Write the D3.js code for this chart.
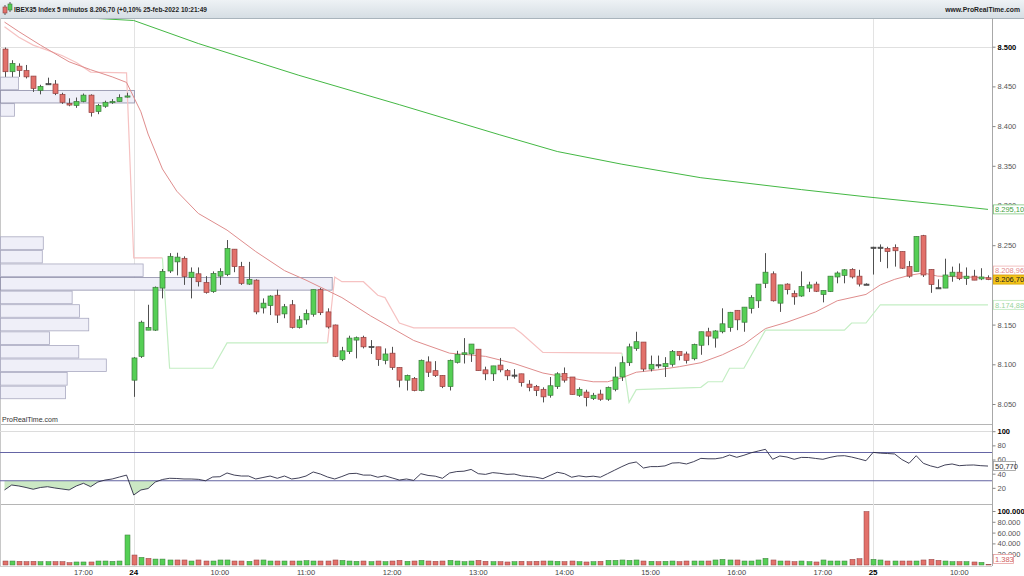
<!DOCTYPE html>
<html lang="es">
<head>
<meta charset="UTF-8">
<script src="https://d3js.org/d3.v7.min.js"></script>
<style>
  body { margin: 0; background: #fff; }
  svg { display: block; font-family: "Liberation Sans", Arial, sans-serif; }
</style>
</head>
<body>
<svg class="chart" width="1024" height="576"></svg>
<script>

// ---- data (5 min candles, 23-feb 16:05 .. 25-feb 10:20) ----
const candleOpen = [
  8497, 8468.5, 8475.5, 8470, 8463, 8445, 8453, 8453, 8440, 8428.5, 8426, 8431, 8439, 8418.5, 8425, 8430, 8431, 8437,
  8080, 8110, 8143, 8143, 8196, 8217.5, 8229, 8233.5, 8209.5, 8214, 8203, 8191.5, 8211, 8213, 8245, 8223, 8201, 8206, 8171, 8174, 8187, 8163.5, 8175, 8146.5, 8156, 8163, 8194, 8166, 8149.5,
  8106, 8116, 8130.5, 8134, 8122, 8122, 8105, 8114, 8096, 8080, 8082, 8067, 8103, 8092, 8086, 8072, 8102.5, 8112.5, 8113, 8119, 8093, 8088, 8099, 8092, 8086.5, 8088, 8075, 8072, 8068.5, 8061, 8072, 8088.5, 8084, 8061, 8065, 8057, 8062.5, 8056, 8068.5, 8084, 8102, 8120, 8128, 8094, 8099, 8097, 8100,
  8116, 8113, 8107, 8124, 8141, 8133, 8141, 8146.5, 8168, 8153, 8170.5, 8180, 8202, 8214, 8177, 8201, 8189, 8186, 8196, 8201, 8188, 8191.5, 8210, 8212, 8219.5, 8211, 8201,
  8247, 8247, 8246, 8247, 8242, 8223, 8217, 8262, 8219.5, 8196, 8196, 8211, 8216, 8208, 8211, 8207.5, 8209
];
const candleHigh = [
  8499, 8483, 8479, 8477, 8463, 8452, 8461, 8458, 8442, 8435, 8436, 8441, 8440, 8428, 8432, 8434, 8440, 8442,
  8109, 8155, 8175, 8198, 8220, 8240, 8240.5, 8236, 8222, 8222, 8211, 8217, 8221, 8256.5, 8245, 8229, 8229, 8207, 8183, 8187, 8194, 8176, 8181, 8161, 8169, 8194, 8196, 8170.5, 8150,
  8122, 8136, 8135, 8136, 8130.5, 8122, 8120, 8122, 8096, 8087, 8084, 8106, 8110, 8104, 8086, 8106, 8117, 8133, 8125.5, 8119, 8097, 8098, 8108, 8094, 8094, 8088, 8080, 8074, 8071, 8084, 8090, 8096, 8084, 8071, 8068, 8064, 8068, 8072, 8097, 8110, 8126, 8141, 8128, 8111, 8111, 8109, 8118,
  8116, 8116, 8126, 8141, 8146, 8143, 8170.5, 8166, 8168, 8172, 8187, 8201, 8240, 8217, 8200, 8202, 8193, 8217, 8204, 8204, 8193, 8211, 8217, 8220, 8221, 8219, 8202,
  8248, 8251, 8248, 8251, 8242, 8230, 8261, 8263, 8219.5, 8207, 8233, 8223, 8227, 8222, 8219, 8221, 8212
];
const candleLow = [
  8462, 8462, 8462, 8460, 8443, 8440, 8452, 8439, 8428, 8425, 8423, 8430, 8412, 8415, 8423, 8428, 8431, 8436,
  8059, 8108, 8143, 8142, 8183, 8215, 8212, 8200, 8183, 8198, 8189, 8190, 8200, 8211, 8216, 8200, 8200, 8163, 8164, 8162, 8152, 8158, 8145, 8145, 8150, 8160, 8162, 8145, 8109,
  8104, 8113, 8107.5, 8120, 8113, 8098, 8100, 8093, 8071, 8067, 8066, 8066, 8084, 8084, 8070, 8067, 8101, 8101, 8103, 8092, 8080, 8079, 8090, 8080, 8082, 8072, 8066, 8060, 8052, 8058, 8069, 8077, 8062, 8059, 8047, 8055, 8054, 8054, 8066, 8079, 8098, 8117, 8091, 8091, 8095, 8084, 8097,
  8105, 8101, 8105, 8112, 8124, 8121, 8139, 8141, 8143, 8141, 8164, 8171, 8196, 8179, 8166, 8188, 8175, 8185, 8191, 8191, 8178, 8191, 8202, 8202, 8208, 8198, 8200,
  8213, 8229, 8221, 8223, 8220, 8209, 8217, 8210, 8190, 8195, 8196, 8204, 8206, 8200, 8206, 8206, 8206
];
const candleClose = [
  8468.5, 8479, 8470, 8462, 8447.5, 8450, 8453.5, 8441, 8430, 8426.5, 8431, 8439, 8417, 8426, 8430, 8431, 8436, 8438,
  8108, 8153, 8146.5, 8197, 8217, 8236, 8235, 8210.5, 8216, 8204, 8190.5, 8214.5, 8217, 8246, 8223, 8202, 8207, 8166, 8177, 8186, 8162, 8172.5, 8146.5, 8156, 8164, 8194, 8165, 8147, 8110,
  8117, 8133, 8133.5, 8122, 8122.5, 8106, 8113, 8096, 8080, 8086, 8067, 8105, 8090, 8086, 8072, 8105, 8112.5, 8114.5, 8125.5, 8092, 8088, 8098, 8093, 8085.5, 8086.5, 8077, 8071, 8067, 8059, 8073, 8088, 8080, 8062, 8068.5, 8058, 8061, 8056, 8071, 8084, 8102, 8122, 8128.5, 8094, 8100, 8099.5, 8101, 8116,
  8111, 8105, 8125, 8141, 8135.5, 8142, 8151, 8165.5, 8156, 8172, 8184, 8201, 8216, 8180, 8200, 8194, 8185, 8198, 8200, 8192, 8193, 8211, 8215, 8219, 8210, 8201, 8200.5,
  8247.5, 8247.5, 8242, 8243, 8221, 8211, 8261, 8212.5, 8200.5, 8196.5, 8212.5, 8216, 8208, 8211, 8206, 8210, 8206.7
];
const volume = [
  7400, 7400, 6800, 6200, 6800, 6200, 6200, 6200, 6200, 4300, 5600, 5600, 5600, 7400, 7400, 6800, 7400, 55600,
  18500, 14200, 12300, 11000, 11000, 9300, 9300, 9300, 7400, 9300, 7400, 7400, 9300, 9300, 7400, 7400, 6800, 9300, 9300, 7400, 7400, 7400, 7400, 7400, 8000, 7400, 7400, 7400, 9300,
  8600, 7400, 6800, 7400, 6200, 7400, 6200, 7400, 8600, 6800, 7400, 8600, 7400, 6800, 7400, 8600, 7400, 6200, 7400, 8600, 6800, 6200, 6200, 5600, 6200, 6800, 6200, 6800, 7400, 7400, 6800, 6200, 7400, 6200, 5600, 6200, 6800, 8600, 8600, 9300, 8600, 9300, 7400, 6800, 6200, 6800, 7400,
  6200, 7400, 7400, 7400, 7400, 9300, 10500, 9300, 9300, 7400, 7400, 9300, 12300, 9300, 7400, 7400, 6200, 7400, 6200, 5600, 9300, 7400, 7400, 7400, 10500, 11700, 99000,
  10500, 9300, 7400, 7400, 7400, 7400, 7400, 9300, 10500, 8600, 7400, 6200, 6200, 6200, 5600, 4900, 1383
];
const rsi = [
  17, 24, 22.6, 20.5, 18, 20.5, 21.6, 19.8, 18.4, 17, 22.6, 26.4, 21.6, 28.2, 31, 32.5, 35.3, 38,
  9.9, 17, 19, 28.2, 31.8, 33.5, 33.2, 32.5, 32.5, 32, 30, 35.3, 35.7, 41, 38, 36.7, 36.7, 32.5, 34.6, 36.7, 33.5, 36.7, 32.5, 33.9, 36.7, 42.4, 39.5, 35.3, 32.5,
  36, 40, 40.5, 38, 38, 35, 37, 34, 31, 32.5, 30.5, 40, 37.5, 36.5, 33.5, 41, 43, 43.5, 46, 40, 39, 41.5, 40.5, 39, 39.5, 37, 36, 35, 33, 37.5, 42, 40, 35, 37, 35.5, 36.5, 35, 40, 45, 50, 54.5, 56.5, 48, 50, 50, 51, 55,
  55.5, 53.7, 57, 61.6, 61, 61, 62.6, 66.4, 63.1, 66, 69.5, 72, 74.4, 60.3, 65, 63.5, 60.3, 63, 62.8, 61.5, 60.3, 63, 65, 65.4, 63.5, 61, 58.3,
  70.1, 69, 68.5, 67.8, 60, 54.6, 65.4, 54.6, 51, 48.5, 52.3, 53.7, 51.3, 52, 52.3, 51.3, 50.77
];

// moving averages, [candle index, value]
const maSlow = [[0,8541],[12,8536],[18,8533],[27,8504],[41,8464],[55,8427],[69,8389],[77,8368],[86,8352],[97,8335],[111,8320],[120,8311],[132,8300],[137,8295.1]];
const maFast = [[0,8531],[2,8519],[5,8502],[9,8481],[12,8471],[15,8462],[17,8455],[19,8418],[20,8390],[22,8346],[24,8318],[27,8290],[31,8269],[35,8242],[39,8218],[42,8206],[47,8184],[51,8161],[57,8130],[62,8114],[67,8110],[71,8101],[75,8089],[78,8084],[82,8078],[84,8078],[86,8083],[88,8090],[91,8093],[94,8097],[97,8102],[100,8112],[103,8125],[106,8145],[109,8153],[113,8166],[116,8180],[120,8188],[122,8200],[124,8207],[126,8212],[128,8215],[130,8211],[134,8210],[137,8208.96]];

// trailing stop, bearish (above price) and bullish (below price) stretches
const stopDown = [
  [[0,8525],[2,8512],[4,8502],[8,8489],[10,8480],[12,8468],[17,8467],[18,8234],[22,8234]],
  [[45,8127],[46,8210],[47,8204],[50,8204],[52,8187],[53,8184],[55,8152],[57,8146],[71,8146],[72,8139],[75,8115],[86,8114]]
];
const stopUp = [
  [[22,8234],[23,8095],[29,8095],[31,8127],[45,8127]],
  [[86,8114],[87,8052],[88,8068],[94,8070],[97,8071],[98,8078],[100,8078],[101,8095],[103,8095],[106,8143],[117,8143],[118,8152],[120,8152],[122,8175],[137,8174.88]]
];

// volume by price
const profileRowH = 17.1;
const profile23Low = [8411.8, 8428.5, 8445.2];
const profile23Vol = [42, 404, 54];
const profile24Low = [8056, 8073.1, 8090.2, 8107.3, 8124.4, 8141.5, 8158.6, 8175.7, 8192.8, 8209.9, 8227, 8244.1];
const profile24Vol = [196, 201, 319, 236, 148, 266, 238, 216, 1000, 430, 126, 129];

// time axis
const tickIndex = [11, 18, 30, 42, 54, 66, 78, 90, 102, 114, 121, 133];
const tickText = ['17:00', '24', '10:00', '11:00', '12:00', '13:00', '14:00', '15:00', '16:00', '17:00', '25', '10:00'];
const dayStart = [18, 121];

// 8.200 sits under the value tags, so it is left out
const priceTicks = [8050, 8100, 8150, 8250, 8300, 8350, 8400, 8450, 8500];
const rsiTicks = [20, 40, 60, 80, 100];
const volTicks = [20000, 40000, 60000, 80000, 100000];

// ---- layout ----
const axisX = 992;
const mainTop = 18, mainBot = 424, rsiBot = 504, volBot = 566;

const es = d3.formatLocale({decimal: ',', thousands: '.', grouping: [3], currency: ['', '']});
const f0 = es.format(',.0f'), f2 = es.format(',.2f'), f3 = es.format(',.3f');

const x = d3.scaleLinear().domain([0, 137]).range([4.5, 988]);
const yP = d3.scaleLinear().domain([8050, 8500]).range([404, 46.7]);
const yR = d3.scaleLinear().domain([0, 100]).range([502, 431.2]);
const yV = d3.scaleLinear().domain([0, 100000]).range([565, 511]);
const xProf = d3.scaleLinear().domain([0, 1000]).range([0, 331.7]);

const GREEN = '#55cf55', GREEN_S = '#3c7a3c', RED = '#e2716b', RED_S = '#8f4040';

const svg = d3.select('.chart');
const defs = svg.append('defs');

const grad = defs.append('linearGradient').attr('id', 'hdr').attr('x1', 0).attr('x2', 0).attr('y1', 0).attr('y2', 1);
grad.append('stop').attr('offset', '0%').attr('stop-color', '#eef2f5');
grad.append('stop').attr('offset', '100%').attr('stop-color', '#d6dee4');

defs.append('clipPath').attr('id', 'clipMain')
  .append('rect').attr('x', 0).attr('y', mainTop + 1).attr('width', axisX).attr('height', mainBot - mainTop - 1);
defs.append('clipPath').attr('id', 'clipLow')
  .append('rect').attr('x', 0).attr('y', yR(30)).attr('width', axisX).attr('height', rsiBot - yR(30));

svg.append('rect').attr('width', 1024).attr('height', 576).attr('fill', '#fff');

// header
svg.append('rect').attr('width', 1024).attr('height', mainTop).attr('fill', 'url(#hdr)');
svg.append('line').attr('x1', 0).attr('x2', 1024).attr('y1', mainTop + 0.5).attr('y2', mainTop + 0.5).attr('stroke', '#a9b4bc');
let icon = svg.append('g');
icon.append('line').attr('x1', 5).attr('x2', 5).attr('y1', 5).attr('y2', 15).attr('stroke', '#555');
icon.append('rect').attr('x', 3).attr('y', 7).attr('width', 4).attr('height', 6).attr('fill', RED).attr('stroke', RED_S).attr('stroke-width', 0.6);
icon.append('line').attr('x1', 10).attr('x2', 10).attr('y1', 2).attr('y2', 12).attr('stroke', '#555');
icon.append('rect').attr('x', 8).attr('y', 4).attr('width', 4).attr('height', 6).attr('fill', GREEN).attr('stroke', GREEN_S).attr('stroke-width', 0.6);
svg.append('text').attr('x', 14).attr('y', 12).attr('font-size', 8).attr('font-weight', 'bold').attr('fill', '#1d1d1d')
  .attr('textLength', 193).attr('lengthAdjust', 'spacingAndGlyphs')
  .text('IBEX35 Index 5 minutos 8.206,70 (+0,10% 25-feb-2022 10:21:49');
svg.append('text').attr('x', 1020).attr('y', 12).attr('text-anchor', 'end')
  .attr('font-size', 6.8).attr('font-weight', 'bold').attr('fill', '#1d1d1d')
  .text('www.ProRealTime.com');

// panel frames
[mainBot, rsiBot].forEach(yy => {
  svg.append('line').attr('x1', 0).attr('x2', axisX).attr('y1', yy + 0.5).attr('y2', yy + 0.5).attr('stroke', '#b5b5b5');
});
svg.append('line').attr('x1', 0).attr('x2', axisX).attr('y1', volBot + 0.5).attr('y2', volBot + 0.5).attr('stroke', '#d0d0d0');
svg.append('line').attr('x1', 0.5).attr('x2', 0.5).attr('y1', mainTop).attr('y2', volBot).attr('stroke', '#c8c8c8');

// day separators
svg.selectAll('.daysep').data(dayStart).join('line').attr('class', 'daysep')
  .attr('x1', d => Math.round(x(d)) + 0.5).attr('x2', d => Math.round(x(d)) + 0.5)
  .attr('y1', mainTop + 1).attr('y2', volBot)
  .attr('stroke', '#e3e3e3');

// ---- main panel ----
const main = svg.append('g').attr('clip-path', 'url(#clipMain)');

main.append('line').attr('x1', 0).attr('x2', axisX).attr('y1', Math.round(yP(8500)) + 0.5).attr('y2', Math.round(yP(8500)) + 0.5)
  .attr('stroke', '#e0e0e0');

function drawProfile(lows, vols) {
  const maxV = d3.max(vols);
  main.append('g').selectAll('rect').data(lows).join('rect')
    .attr('x', 0.5)
    .attr('y', d => yP(d + profileRowH) + 0.5)
    .attr('width', (d, i) => xProf(vols[i]))
    .attr('height', d => yP(d) - yP(d + profileRowH) - 1)
    .attr('fill', '#efeff8')
    .attr('stroke', (d, i) => vols[i] === maxV ? '#8c8ca6' : '#a9a9c0')
    .attr('stroke-width', 0.8);
}
drawProfile(profile23Low, profile23Vol);
drawProfile(profile24Low, profile24Vol);

const line = d3.line().x(d => x(d[0])).y(d => yP(d[1]));
main.append('path').datum(maSlow).attr('d', line).attr('fill', 'none').attr('stroke', '#44b844').attr('stroke-width', 1);
stopDown.forEach(seg => main.append('path').datum(seg).attr('d', line).attr('fill', 'none').attr('stroke', '#f6c2c2').attr('stroke-width', 1.2));
stopUp.forEach(seg => main.append('path').datum(seg).attr('d', line).attr('fill', 'none').attr('stroke', '#c4eec4').attr('stroke-width', 1.2));
main.append('path').datum(maFast).attr('d', line).attr('fill', 'none').attr('stroke', '#df8d8d').attr('stroke-width', 1);

const idx = d3.range(candleOpen.length);
const bodyW = 5;
const candle = main.selectAll('.candle').data(idx).join('g').attr('class', 'candle');
candle.append('line')
  .attr('x1', i => Math.round(x(i)) + 0.5).attr('x2', i => Math.round(x(i)) + 0.5)
  .attr('y1', i => yP(candleHigh[i])).attr('y2', i => yP(candleLow[i]))
  .attr('stroke', '#505050').attr('stroke-width', 1);
candle.append('rect')
  .attr('x', i => Math.round(x(i)) - 2)
  .attr('y', i => yP(Math.max(candleOpen[i], candleClose[i])))
  .attr('width', bodyW)
  .attr('height', i => Math.max(1.2, Math.abs(yP(candleOpen[i]) - yP(candleClose[i]))))
  .attr('fill', i => Math.abs(candleClose[i] - candleOpen[i]) < 1 ? '#555' : (candleClose[i] >= candleOpen[i] ? GREEN : RED))
  .attr('stroke', i => Math.abs(candleClose[i] - candleOpen[i]) < 1 ? '#444' : (candleClose[i] >= candleOpen[i] ? GREEN_S : RED_S))
  .attr('stroke-width', 0.7);

svg.append('text').attr('x', 2).attr('y', 422).attr('font-size', 7).attr('fill', '#333').text('ProRealTime.com');

// ---- RSI panel ----
svg.append('line').attr('x1', 0).attr('x2', axisX).attr('y1', Math.round(yR(100)) + 0.5).attr('y2', Math.round(yR(100)) + 0.5).attr('stroke', '#dcdcdc');
svg.append('path').datum(rsi)
  .attr('clip-path', 'url(#clipLow)')
  .attr('d', d3.area().x((d, i) => x(i)).y0(yR(30)).y1(d => yR(d)))
  .attr('fill', '#cbe8c4');
[70, 30].forEach(v => {
  svg.append('line').attr('x1', 0).attr('x2', axisX).attr('y1', yR(v)).attr('y2', yR(v)).attr('stroke', '#6565a5').attr('stroke-width', 1.1);
});
svg.append('path').datum(rsi)
  .attr('d', d3.line().x((d, i) => x(i)).y(d => yR(d)))
  .attr('fill', 'none').attr('stroke', '#2b2b45').attr('stroke-width', 0.9);

// ---- volume panel ----
const isDown = i => i === 0 ? candleClose[i] < candleOpen[i] : candleClose[i] < candleClose[i - 1];
svg.selectAll('.vol').data(idx).join('rect').attr('class', 'vol')
  .attr('x', i => Math.round(x(i)) - 2)
  .attr('y', i => yV(volume[i]))
  .attr('width', bodyW)
  .attr('height', i => yV(0) - yV(volume[i]))
  .attr('fill', i => isDown(i) ? RED : GREEN)
  .attr('stroke', i => isDown(i) ? RED_S : GREEN_S)
  .attr('stroke-width', 0.5);

// ---- right axes ----
svg.append('line').attr('x1', axisX + 0.5).attr('x2', axisX + 0.5).attr('y1', mainTop).attr('y2', volBot).attr('stroke', '#a8a8a8');

function rightAxis(scale, ticks, fmt, boldVal) {
  const g = svg.append('g').attr('transform', `translate(${axisX + 0.5},0)`)
    .call(d3.axisRight(scale).tickValues(ticks).tickSize(3).tickPadding(2).tickFormat(fmt));
  g.select('.domain').remove();
  g.selectAll('line').attr('stroke', '#888');
  g.selectAll('text').attr('font-size', 7.5).attr('font-family', '"Liberation Sans", Arial, sans-serif')
    .attr('fill', d => d === boldVal ? '#000' : '#555')
    .attr('font-weight', d => d === boldVal ? 'bold' : 'normal');
}
rightAxis(yP, priceTicks, f0, 8500);
rightAxis(yR, rsiTicks, f0, 100);
rightAxis(yV, volTicks, f0, 100000);

function tag(yc, txt, fill, stroke, color, w) {
  const g = svg.append('g');
  g.append('rect').attr('x', axisX + 1.5).attr('y', yc - 4.5).attr('width', w).attr('height', 9)
    .attr('fill', fill).attr('stroke', stroke).attr('stroke-width', 0.8);
  g.append('text').attr('x', axisX + 3).attr('y', yc + 2.7).attr('font-size', 7.5).attr('fill', color).text(txt);
}
const lastClose = candleClose[candleClose.length - 1];
tag(yP(maSlow[maSlow.length - 1][1]), f2(maSlow[maSlow.length - 1][1]), '#fff', '#7cc77c', '#3f9f3f', 31);
tag(yP(lastClose) - 9, f2(maFast[maFast.length - 1][1]), '#fff', '#eeb0b0', '#e08a8a', 31);
tag(yP(lastClose), f2(lastClose), '#f4c41a', '#d4a400', '#222', 31);
tag(yP(stopUp[1][stopUp[1].length - 1][1]), f2(stopUp[1][stopUp[1].length - 1][1]), '#fff', '#bde8bd', '#9ad49a', 31);
tag(yR(rsi[rsi.length - 1]), f3(rsi[rsi.length - 1]), '#fff', '#999', '#333', 22);
tag(Math.min(yV(volume[volume.length - 1]), 559), f0(volume[volume.length - 1]), '#fff', '#e6a0a0', '#d06060', 20);

// ---- time axis ----
svg.selectAll('.tlab').data(tickIndex).join('text').attr('class', 'tlab')
  .attr('x', d => x(d)).attr('y', 574.5)
  .attr('text-anchor', 'middle')
  .attr('font-size', (d, i) => tickText[i].length === 2 ? 8 : 7.5)
  .attr('font-weight', (d, i) => tickText[i].length === 2 ? 'bold' : 'normal')
  .attr('fill', (d, i) => tickText[i].length === 2 ? '#000' : '#444')
  .text((d, i) => tickText[i]);

</script>
</body>
</html>
